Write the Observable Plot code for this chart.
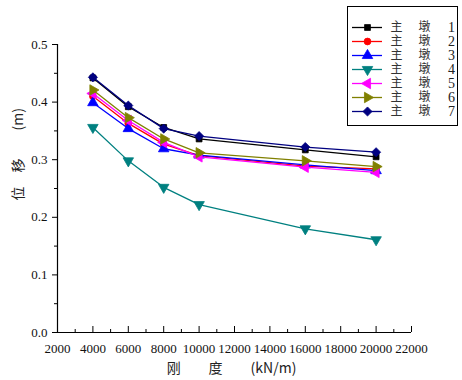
<!DOCTYPE html>
<html>
<head>
<meta charset="utf-8">
<script src="https://cdn.jsdelivr.net/npm/d3@7"></script>
<script src="https://cdn.jsdelivr.net/npm/@observablehq/plot@0.6"></script>
<style>
  html, body { margin: 0; padding: 0; background: #fff; }
  #wrap { position: relative; width: 462px; height: 380px; overflow: hidden; }
  #legend { position: absolute; left: 347px; top: 6px; border: 1px solid #000; background: #fff; line-height: 0; }
  #wrap svg text.serif, #wrap g[aria-label$="tick label"] text { font-family: "Liberation Serif", "DejaVu Serif", serif; }
</style>
</head>
<body>
<div id="wrap"></div>
<script>
// ---- data ----
const stiffness = [4000, 6000, 8000, 10000, 16000, 20000];
const pier1 = [0.442, 0.392, 0.356, 0.336, 0.317, 0.305];
const pier2 = [0.410, 0.363, 0.327, 0.307, 0.289, 0.284];
const pier3 = [0.399, 0.354, 0.319, 0.308, 0.291, 0.281];
const pier4 = [0.356, 0.298, 0.252, 0.222, 0.180, 0.161];
const pier5 = [0.415, 0.368, 0.330, 0.305, 0.287, 0.278];
const pier6 = [0.421, 0.373, 0.336, 0.312, 0.298, 0.288];
const pier7 = [0.443, 0.394, 0.354, 0.341, 0.322, 0.313];
const seriesNumbers = ["1", "2", "3", "4", "5", "6", "7"];
const seriesValues = [pier1, pier2, pier3, pier4, pier5, pier6, pier7];
const seriesColors = ["#000000", "#ff0000", "#0000ff", "#008080", "#ff00ff", "#808000", "#000080"];
const xTicks = [2000, 4000, 6000, 8000, 10000, 12000, 14000, 16000, 18000, 20000, 22000];
const xMinor = [3000, 5000, 7000, 9000, 11000, 13000, 15000, 17000, 19000, 21000];
const yTicks = [0, 0.1, 0.2, 0.3, 0.4, 0.5];
const yMinor = [0.05, 0.15, 0.25, 0.35, 0.45];
const xTitle = "刚\u3000\u3000度\u3000\u3000(kN/m)";
const yTitle = "位\u3000移\u3000\u3000(m)";
const legendWord1 = "主";
const legendWord2 = "墩";

const SERIF = "'Liberation Serif', 'DejaVu Serif', serif";
const CJK = "'Noto Sans CJK SC', sans-serif";

// ---- custom symbols ----
const sqrt3 = Math.sqrt(3);
function triangle(dir) {
  return {
    draw(ctx, size) {
      const y = -Math.sqrt(size / (sqrt3 * 3));
      let pts = [[0, 2 * y], [-sqrt3 * y, -y], [sqrt3 * y, -y]]; // up
      if (dir === "down") pts = pts.map(([a, b]) => [a, -b]);
      if (dir === "left") pts = pts.map(([a, b]) => [b, a]);
      if (dir === "right") pts = pts.map(([a, b]) => [-b, a]);
      ctx.moveTo(pts[0][0], pts[0][1]);
      ctx.lineTo(pts[1][0], pts[1][1]);
      ctx.lineTo(pts[2][0], pts[2][1]);
      ctx.closePath();
    }
  };
}
const seriesSymbols = ["square", "circle", triangle("up"), triangle("down"), triangle("left"), triangle("right"), "diamond2"];
const seriesR = [3.3, 3.4, 3.9, 3.9, 3.9, 3.9, 4.1];

// ---- main chart ----
const seriesMarks = [];
seriesValues.forEach((vals, k) => {
  const rows = stiffness.map((x, i) => ({x, y: vals[i]}));
  seriesMarks.push(Plot.line(rows, {x: "x", y: "y", stroke: seriesColors[k], strokeWidth: 1.3}));
  seriesMarks.push(Plot.dot(rows, {x: "x", y: "y", symbol: seriesSymbols[k], r: seriesR[k], fill: seriesColors[k], stroke: seriesColors[k], strokeWidth: 0.8}));
});

const chart = Plot.plot({
  width: 462, height: 380,
  marginLeft: 57, marginRight: 51, marginTop: 44, marginBottom: 48,
  x: {domain: [2000, 22000]},
  y: {domain: [0, 0.5]},
  style: {fontFamily: SERIF, fontSize: "13px", color: "#000", background: "#fff", overflow: "visible"},
  marks: [
    Plot.axisX(xTicks, {tickSize: 0, tickPadding: 11, label: null, tickFormat: d3.format("d"), fontSize: 13, fontFamily: SERIF, fill: "#111"}),
    Plot.axisY(yTicks, {tickSize: 0, tickPadding: 10, label: null, tickFormat: d3.format(".1f"), fontSize: 13, fontFamily: SERIF, fill: "#111"}),
    Plot.ruleX(xTicks, {x: d => d, y1: 0, y2: 0, insetTop: -6, stroke: "#000"}),
    Plot.ruleX(xMinor, {x: d => d, y1: 0, y2: 0, insetTop: -3, stroke: "#000"}),
    Plot.ruleY(yTicks, {y: d => d, x1: 2000, x2: 2000, insetLeft: -5, stroke: "#000"}),
    Plot.ruleY(yMinor, {y: d => d, x1: 2000, x2: 2000, insetLeft: -3, stroke: "#000"}),
    Plot.ruleX([2000], {x: d => d, y1: 0, y2: 0.5, stroke: "#000", strokeWidth: 1.2}),
    Plot.ruleY([0], {y: d => d, x1: 2000, x2: 22000, stroke: "#000", strokeWidth: 1.2}),
    Plot.text([xTitle], {text: d => d, frameAnchor: "bottom", dx: -3, dy: 40, fontSize: 14, fontFamily: CJK, fill: "#222"}),
    Plot.text([yTitle], {text: d => d, frameAnchor: "left", rotate: -90, dx: -39, dy: 12, fontSize: 14, fontFamily: CJK, fill: "#222"}),
    ...seriesMarks
  ]
});

// ---- legend ----
const legendMarks = [];
seriesNumbers.forEach((n, k) => {
  legendMarks.push(Plot.ruleY([n], {y: d => d, x1: 4, x2: 34, stroke: seriesColors[k], strokeWidth: 1.3}));
  legendMarks.push(Plot.dot([n], {y: d => d, x: 19, symbol: seriesSymbols[k], r: seriesR[k], fill: seriesColors[k], stroke: seriesColors[k], strokeWidth: 0.8}));
});
const legend = Plot.plot({
  width: 109, height: 118,
  margin: 0,
  x: {domain: [0, 109], range: [0, 109], axis: null},
  y: {type: "point", domain: seriesNumbers, range: [13, 111], axis: null},
  style: {fontFamily: SERIF, fontSize: "13px", color: "#000", background: "#fff"},
  marks: [
    ...legendMarks,
    Plot.text(seriesNumbers, {y: d => d, x: 48, text: () => legendWord1, fontSize: 12, fontFamily: CJK, fill: "#333"}),
    Plot.text(seriesNumbers, {y: d => d, x: 76, text: () => legendWord2, fontSize: 12, fontFamily: CJK, fill: "#333"}),
    Plot.text(seriesNumbers, {y: d => d, x: 103, text: d => d, fontSize: 14, fontFamily: SERIF, fill: "#222"})
  ]
});

const wrap = document.getElementById("wrap");
wrap.appendChild(chart);
const lg = document.createElement("div");
lg.id = "legend";
lg.appendChild(legend);
wrap.appendChild(lg);
</script>
</body>
</html>
